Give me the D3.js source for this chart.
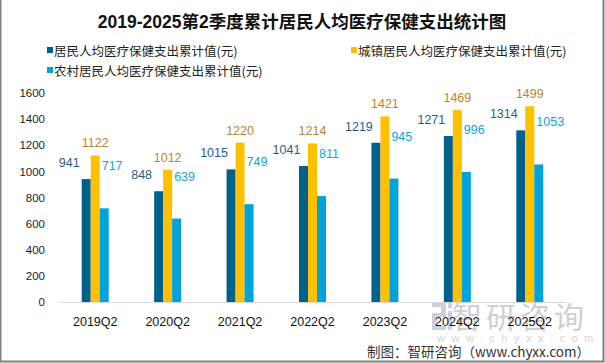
<!DOCTYPE html>
<html><head><meta charset="utf-8">
<script src="https://cdn.jsdelivr.net/npm/d3@7"></script>
<style>
html,body{margin:0;padding:0;background:#fff;}
svg{display:block;font-family:"Microsoft YaHei","Noto Sans CJK SC",sans-serif;}
</style></head>
<body><svg id="c" width="605" height="363"></svg>
<script>
const categories = ["2019Q2","2020Q2","2021Q2","2022Q2","2023Q2","2024Q2","2025Q2"];
const seriesNames = ["居民人均医疗保健支出累计值(元)","城镇居民人均医疗保健支出累计值(元)","农村居民人均医疗保健支出累计值(元)"];
const allResidents = [941,848,1015,1041,1219,1271,1314];
const urbanResidents = [1122,1012,1220,1214,1421,1469,1499];
const ruralResidents = [717,639,749,811,945,996,1053];
const yTicks = [0,200,400,600,800,1000,1200,1400,1600];

const colors = ["#00618A","#FFC000","#00A3DC"];
const labelColors = ["#1F5F86","#B8862B","#12A4DA"];
const labelDx = [-17, 0, -2.5];
const labelDy = [-12, -8, -38];
const labelAnchor = ["middle","middle","start"];
const series = [allResidents, urbanResidents, ruralResidents];

const svg = d3.select("#c");
const W = 605, H = 363;
const m = {left:59, right:39, top:93, bottom:61};

// border
svg.append("rect").attr("x",0.5).attr("y",-2).attr("width",W-2).attr("height",H-0.5+1)
  .attr("fill","none").attr("stroke","#808080").attr("stroke-width",2);

const x = d3.scaleBand().domain(categories).range([m.left, W-m.right]).paddingInner(0).paddingOuter(0);
const xs = d3.scaleBand().domain([0,1,2]).range([0,27]);
const y = d3.scaleLinear().domain([0,1600]).range([H-m.bottom, m.top]);

// title
svg.append("text").attr("x",302).attr("y",28).attr("text-anchor","middle")
  .attr("font-size",17.5).attr("font-weight","bold").attr("fill","#111")
  .attr("font-family","'Liberation Sans','Noto Sans CJK SC',sans-serif")
  .text("2019-2025第2季度累计居民人均医疗保健支出统计图");

// legend
const legPos = [[47,56],[351,56],[47,76]];
seriesNames.forEach((n,i)=>{
  const g = svg.append("g").attr("transform",`translate(${legPos[i][0]},${legPos[i][1]})`);
  g.append("rect").attr("x",0).attr("y",-9).attr("width",6).attr("height",6).attr("fill",colors[i]);
  g.append("text").attr("x",7).attr("y",0).attr("font-size",12.5).attr("fill","#222").text(n);
});

// y axis
const ya = svg.append("g").attr("transform",`translate(${m.left-14},0)`)
  .call(d3.axisLeft(y).tickValues(yTicks).tickFormat(d3.format("d")).tickSize(0).tickPadding(0));
ya.select(".domain").remove();
ya.selectAll("text").attr("font-size",11.5).attr("fill","#222")
  .attr("font-family","'Liberation Sans',Arial,sans-serif");

// watermark
const wm = svg.append("g");
wm.append("text").attr("x",452).attr("y",328).attr("font-size",30).attr("fill","#D0D0D0")
  .attr("letter-spacing",4).text("智研咨询");
wm.append("path").attr("fill","#CBD2DC")
  .attr("d","M432,303 H446 V317 H437 V326 H446 V330 H432 V313 H441 V307 H432 Z M448,303 H452 V308 H448 Z M448,311 H452 V330 H448 Z");
wm.append("text").attr("x",437).attr("y",342).attr("font-size",11).attr("fill","#D4D4D4")
  .attr("letter-spacing",6.5).attr("font-family","'Liberation Sans',sans-serif").text("www.chyxx.com");

// x axis
const xa = svg.append("g").attr("transform",`translate(0,${H-m.bottom})`)
  .call(d3.axisBottom(x).tickSize(0).tickPadding(15));
xa.select(".domain").attr("stroke","#D9D9D9");
xa.selectAll("text").attr("font-size",12.5).attr("fill","#111")
  .attr("font-family","'Liberation Sans',Arial,sans-serif");

// bars
series.forEach((vals,si)=>{
  const g = svg.append("g");
  const bx = (i)=>x(categories[i]) + x.bandwidth()/2 - 13.5 + xs(si);
  g.selectAll("rect").data(vals).join("rect")
    .attr("x",(d,i)=>bx(i))
    .attr("width",xs.bandwidth())
    .attr("y",d=>y(d)).attr("height",d=>y(0)-y(d))
    .attr("fill",colors[si]);
  g.selectAll("text").data(vals).join("text")
    .attr("x",(d,i)=>labelAnchor[si]==="start" ? bx(i) + xs.bandwidth()/2 + labelDx[si]
                                                : bx(i) + xs.bandwidth()/2 + labelDx[si])
    .attr("y",d=>y(d)+labelDy[si])
    .attr("text-anchor",labelAnchor[si]).attr("font-size",12.5).attr("fill",labelColors[si])
    .attr("font-family","'Liberation Sans',Arial,sans-serif")
    .text(d=>d);
});

// credit
svg.append("text").attr("x",590).attr("y",357).attr("text-anchor","end")
  .attr("font-size",13.5).attr("fill","#333").text("制图：智研咨询（www.chyxx.com）");
</script></body></html>
